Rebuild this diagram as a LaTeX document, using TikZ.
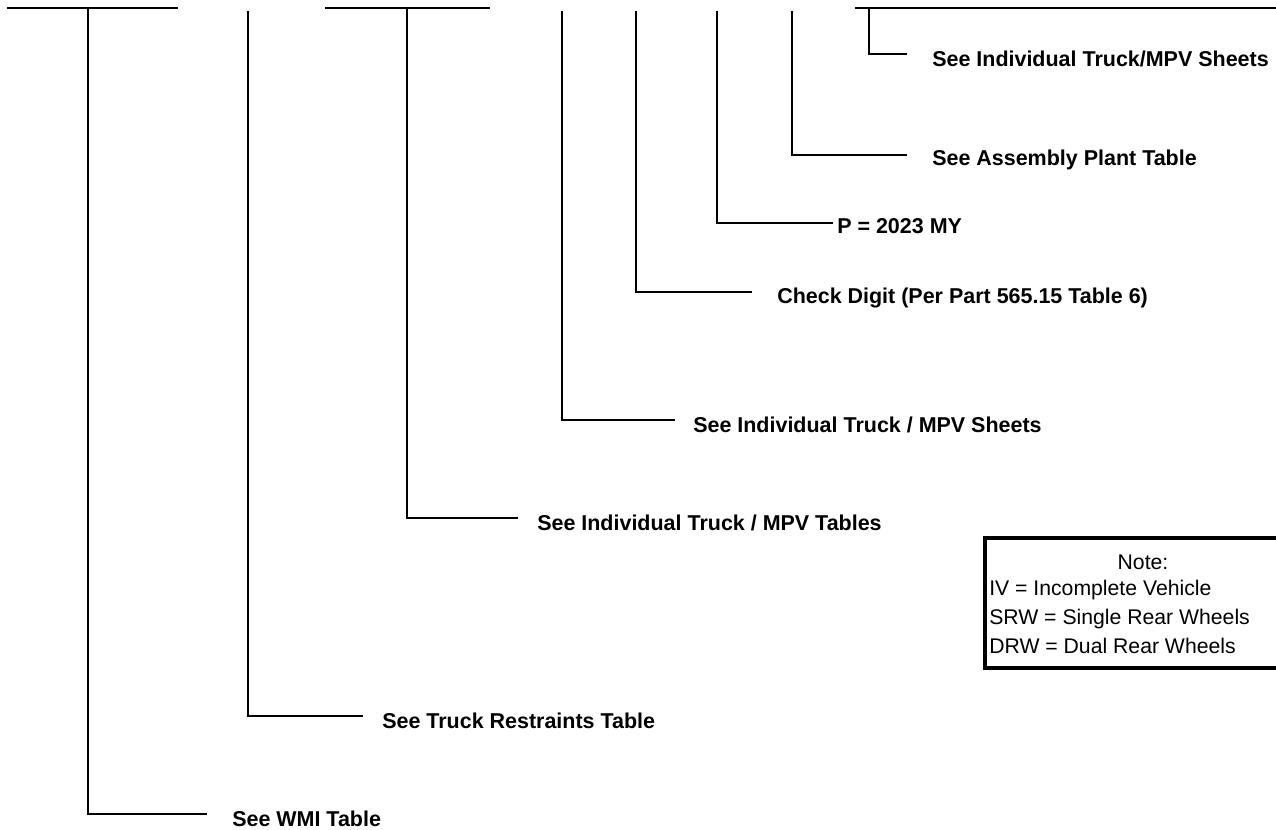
\documentclass[tikz,border=0pt]{standalone}
\usepackage{fontspec}
\setmainfont{Liberation Sans}
\begin{document}
\begin{tikzpicture}[x=0.75pt,y=-0.75pt,
  conn/.style={draw=black,line width=1.5pt},
  lbl/.style={font=\fontsize{16.1}{19}\selectfont\bfseries,inner sep=0pt,anchor=base west},
  notetxt/.style={font=\fontsize{15.9}{19}\selectfont,inner sep=0pt,anchor=base west},
  notebox/.style={draw=black,line width=2.6pt}]
\useasboundingbox (0,0) rectangle (1276,830);
% top bars
\coordinate (barAl) at (7,8);   \coordinate (barAr) at (178,8);
\coordinate (barBl) at (325,8); \coordinate (barBr) at (490,8);
\coordinate (barCl) at (855,8); \coordinate (barCr) at (1290,8);
\draw[conn] (barAl) -- (barAr);
\draw[conn] (barBl) -- (barBr);
\draw[conn] (barCl) -- (barCr);
% vertical start points
\coordinate (t1) at (88,8);
\coordinate (t2) at (248,11);
\coordinate (t3) at (407,8);
\coordinate (t4) at (562,11);
\coordinate (t5) at (636,11);
\coordinate (t6) at (717,11);
\coordinate (t7) at (792,11);
\coordinate (t8) at (869,8);
% horizontal end points
\coordinate (e1) at (207,814);
\coordinate (e2) at (363,716);
\coordinate (e3) at (518,518);
\coordinate (e4) at (675,420);
\coordinate (e5) at (752,292);
\coordinate (e6) at (833,223);
\coordinate (e7) at (907,155);
\coordinate (e8) at (907,54);
% labels
\node[lbl] (l1) at (232,826) {See WMI Table};
\node[lbl] (l2) at (382,728) {See Truck Restraints Table};
\node[lbl] (l3) at (537,530) {See Individual Truck / MPV Tables};
\node[lbl] (l4) at (693,432) {See Individual Truck / MPV Sheets};
\node[lbl] (l5) at (777,303) {Check Digit (Per Part 565.15 Table 6)};
\node[lbl] (l6) at (837,234) {P = 2023 MY};
\node[lbl] (l7) at (932,166) {See Assembly Plant Table};
\node[lbl] (l8) at (932,67) {See Individual Truck/MPV Sheets};
% connectors
\foreach \i in {1,...,8}{\draw[conn] (t\i) |- (e\i);}
% note box
\coordinate (nb1) at (985,538);
\coordinate (nb2) at (1310,668);
\draw[notebox] (nb1) rectangle (nb2);
\node[font=\fontsize{15.9}{19}\selectfont,inner sep=0pt,anchor=base] (n0) at (1143,569) {Note:};
\node[notetxt] (n1) at (989,595) {IV = Incomplete Vehicle};
\node[notetxt] (n2) at (989,624) {SRW = Single Rear Wheels};
\node[notetxt] (n3) at (989,653) {DRW = Dual Rear Wheels};
\end{tikzpicture}
\end{document}
